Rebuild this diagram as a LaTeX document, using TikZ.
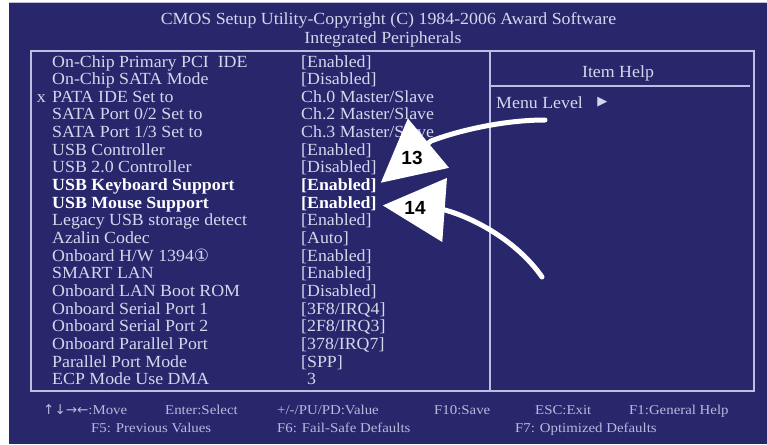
\documentclass[tikz,border=0pt]{standalone}
\usepackage{fontspec}
\setmainfont{Liberation Serif}
\newfontfamily\biosfont[FakeStretch=1.05]{Liberation Serif}
\newfontfamily\footfont[FakeStretch=1.1]{Liberation Serif}
\newfontfamily\symfont{DejaVu Sans}
\newfontfamily\numfont{Liberation Sans}
\usetikzlibrary{positioning,arrows.meta}

\definecolor{biosblue}{RGB}{40,39,108}
\definecolor{biostext}{RGB}{214,214,236}
\definecolor{biosline}{RGB}{190,190,225}
\definecolor{biosfoot}{RGB}{185,185,222}

% row looks: n = plain, b = highlighted
\newcommand\biosrown{\color{biostext}}
\newcommand\biosrowb{\bfseries\color{white}}

\begin{document}
\begin{tikzpicture}[x=1pt, y=-1pt, inner sep=0pt,
    txt/.style={text=biostext, font=\biosfont\fontsize{17}{20}\selectfont},
    foot/.style={text=biosfoot, font=\footfont\fontsize{13.5}{16}\selectfont, anchor=base west},
    pointer/.style={white, line width=5pt, line cap=round, -{Triangle[length=62pt, width=63pt]}},
    num/.style={text=black, font=\numfont\bfseries\fontsize{19}{22}\selectfont}]
    \useasboundingbox (0,0) rectangle (767,444);

    % Screen and frames
    \fill[white] (0,0) rectangle (767,444);
    \fill[biosblue] (9,2) rectangle (767,444);
    \draw[biosline, line width=1pt] (9,2.5) -- (767,2.5);
    \draw[biosline, line width=1.4pt] (31,51) rectangle (754,391);
    \draw[biosline, line width=1.4pt] (490,51) -- (490,391);
    \draw[biosline, line width=1.4pt] (490,86) -- (750,86);

    % Title
    \node[txt, anchor=base] (title) at (388.5,25) {CMOS Setup Utility-Copyright (C) 1984-2006 Award Software};
    \node[txt, anchor=base] (menu) at (383,44) {Integrated Peripherals};

    % Settings
    \foreach \lab/\val/\ft [count=\i] in {
        {On-Chip Primary PCI\ \ IDE}/{[Enabled]}/n,
        {On-Chip SATA Mode}/{[Disabled]}/n,
        {PATA IDE Set to}/{Ch.0 Master/Slave}/n,
        {SATA Port 0/2 Set to}/{Ch.2 Master/Slave}/n,
        {SATA Port 1/3 Set to}/{Ch.3 Master/Slave}/n,
        {USB Controller}/{[Enabled]}/n,
        {USB 2.0 Controller}/{[Disabled]}/n,
        {USB Keyboard Support}/{[Enabled]}/b,
        {USB Mouse Support}/{[Enabled]}/b,
        {Legacy USB storage detect}/{[Enabled]}/n,
        {Azalin Codec}/{[Auto]}/n,
        {Onboard H/W 1394{\symfont\fontsize{17}{20}\selectfont ①}}/{[Enabled]}/n,
        {SMART LAN}/{[Enabled]}/n,
        {Onboard LAN Boot ROM}/{[Disabled]}/n,
        {Onboard Serial Port 1}/{[3F8/IRQ4]}/n,
        {Onboard Serial Port 2}/{[2F8/IRQ3]}/n,
        {Onboard Parallel Port}/{[378/IRQ7]}/n,
        {Parallel Port Mode}/{[SPP]}/n,
        {ECP Mode Use DMA}/{\hphantom{[}3}/n}{
        \pgfmathsetmacro\yb{67+17.65*(\i-1)}
        \node[txt, anchor=base west] (item\i) at (52,\yb) {\csname biosrow\ft\endcsname\lab};
        \node[txt, anchor=base west] (val\i) at (301,\yb) {\csname biosrow\ft\endcsname\val};
    }
    \node[txt, anchor=base east] (xmark) at ([xshift=-6pt]item3.base west) {x};

    % Item help
    \node[txt, anchor=base] (help) at (618,77) {Item Help};
    \node[txt, anchor=base west] (level) at (496,108) {Menu Level};
    \node[txt, right=14pt of level] (levelarr) {\symfont\fontsize{13}{15}\selectfont ▶};

    % Key legend
    \node[foot] (kmove) at (43,414) {{\symfont\fontsize{13.5}{16}\selectfont ↑↓→←}:Move};
    \node[foot] (kenter) at (165,414) {Enter:Select};
    \node[foot] (kvalue) at (277,414) {+/-/PU/PD:Value};
    \node[foot] (ksave) at (434,414) {F10:Save};
    \node[foot] (kexit) at (535,414) {ESC:Exit};
    \node[foot] (khelp) at (629,414) {F1:General Help};
    \node[foot] (kprev) at (91,432) {F5: Previous Values};
    \node[foot] (ksafe) at (277,432) {F6: Fail-Safe Defaults};
    \node[foot] (kopt) at (515,432) {F7: Optimized Defaults};

    % Callouts
    \coordinate (tail13) at (545,120);
    \coordinate (base13) at (431,141);
    \coordinate (tail14) at (542,277);
    \coordinate (base14) at (445,210);
    \draw[pointer] (tail13) .. controls (505,120) and (460,130) .. (base13) -- ([xshift=4pt, yshift=3pt]val8.east);
    \draw[pointer] (tail14) .. controls (520,245) and (480,220) .. (base14) -- ([xshift=6pt, yshift=-2pt]val9.east);
    \node[num] (n13) at (412,158) {13};
    \node[num] (n14) at (415,208) {14};

\end{tikzpicture}
\end{document}
